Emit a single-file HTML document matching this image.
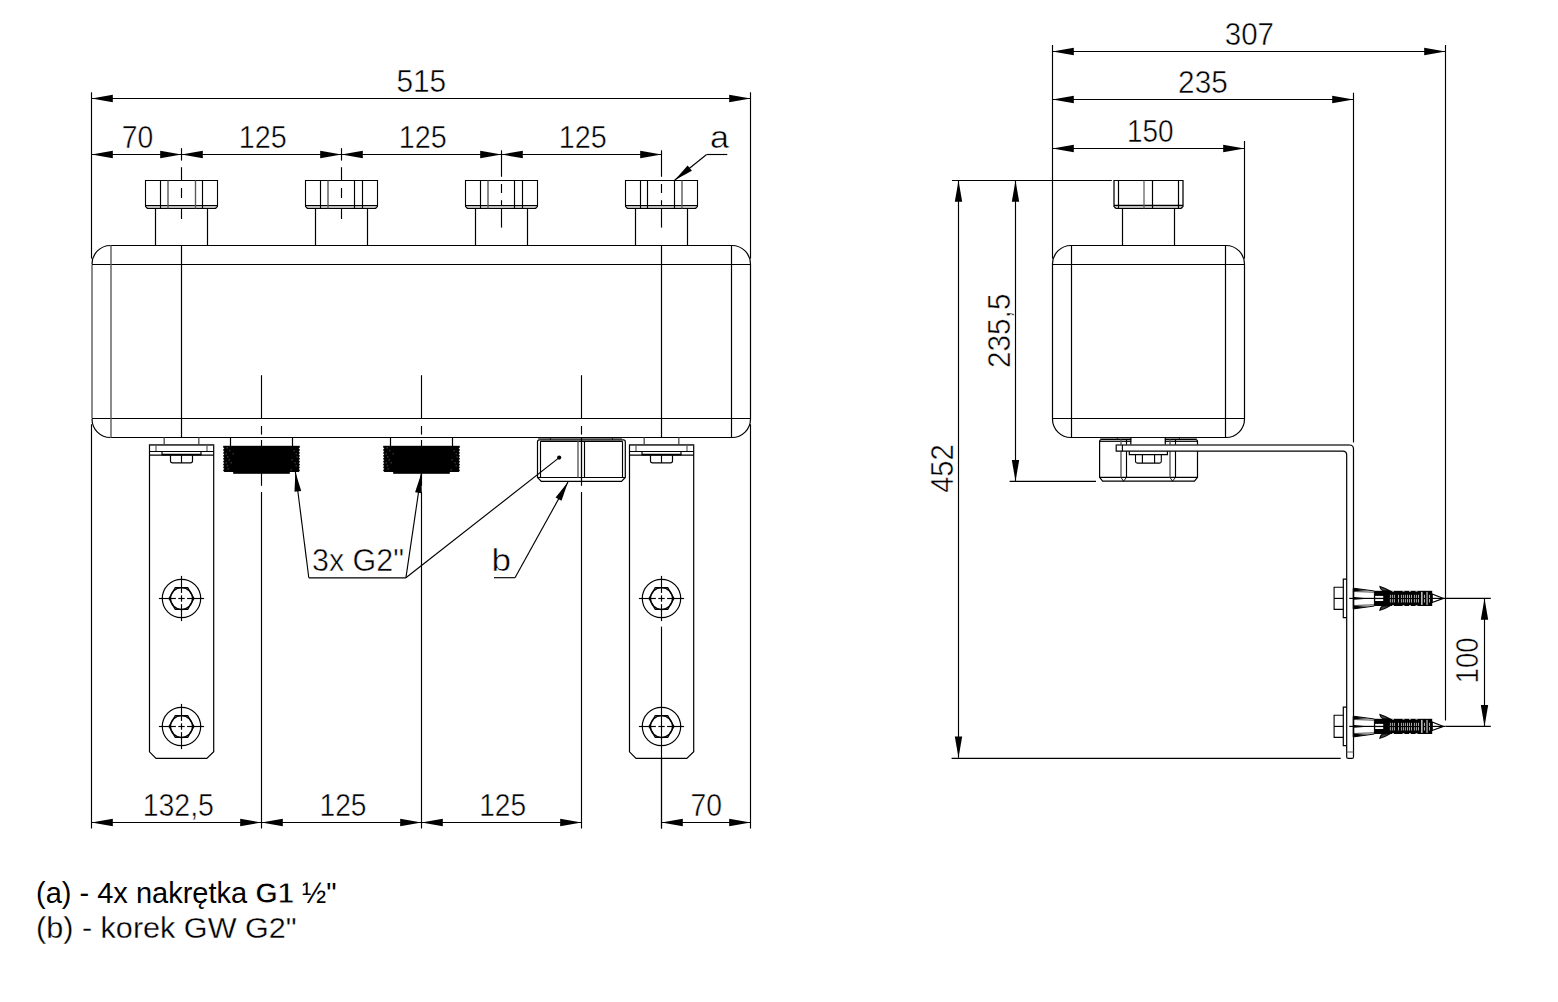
<!DOCTYPE html>
<html><head><meta charset="utf-8"><style>
html,body{margin:0;padding:0;background:#fff;width:1558px;height:1002px;overflow:hidden}
svg{display:block}
text{font-family:"Liberation Sans",sans-serif;fill:#000;stroke:#fff;stroke-width:0.5px}
</style></head><body>
<svg width="1558" height="1002" viewBox="0 0 1558 1002">
<rect width="1558" height="1002" fill="#fff"/>
<line x1="91.5" y1="98.5" x2="750.5" y2="98.5" stroke="#000" stroke-width="1.15"/>
<polygon points="91.5,98.5 112.8,94.8 112.8,102.2" fill="#000"/>
<polygon points="750.5,98.5 729.2,102.2 729.2,94.8" fill="#000"/>
<text x="421.3" y="92" font-size="32" text-anchor="middle" textLength="49.8" lengthAdjust="spacingAndGlyphs">515</text>
<line x1="91.5" y1="92.3" x2="91.5" y2="258.6" stroke="#000" stroke-width="1.15"/>
<line x1="91.5" y1="424.2" x2="91.5" y2="828.5" stroke="#000" stroke-width="1.15"/>
<line x1="750.5" y1="92.3" x2="750.5" y2="258.6" stroke="#000" stroke-width="1.15"/>
<line x1="750.5" y1="424.2" x2="750.5" y2="828.5" stroke="#000" stroke-width="1.15"/>
<line x1="91.5" y1="154.5" x2="181.5" y2="154.5" stroke="#000" stroke-width="1.15"/>
<polygon points="91.5,154.5 112.8,150.8 112.8,158.2" fill="#000"/>
<polygon points="181.5,154.5 160.2,158.2 160.2,150.8" fill="#000"/>
<line x1="181.5" y1="154.5" x2="341.5" y2="154.5" stroke="#000" stroke-width="1.15"/>
<polygon points="181.5,154.5 202.8,150.8 202.8,158.2" fill="#000"/>
<polygon points="341.5,154.5 320.2,158.2 320.2,150.8" fill="#000"/>
<line x1="341.5" y1="154.5" x2="501.5" y2="154.5" stroke="#000" stroke-width="1.15"/>
<polygon points="341.5,154.5 362.8,150.8 362.8,158.2" fill="#000"/>
<polygon points="501.5,154.5 480.2,158.2 480.2,150.8" fill="#000"/>
<line x1="501.5" y1="154.5" x2="661.5" y2="154.5" stroke="#000" stroke-width="1.15"/>
<polygon points="501.5,154.5 522.8,150.8 522.8,158.2" fill="#000"/>
<polygon points="661.5,154.5 640.2,158.2 640.2,150.8" fill="#000"/>
<text x="137.5" y="147.8" font-size="32" text-anchor="middle" textLength="31.5" lengthAdjust="spacingAndGlyphs">70</text>
<text x="262.8" y="147.8" font-size="32" text-anchor="middle" textLength="48" lengthAdjust="spacingAndGlyphs">125</text>
<text x="422.8" y="147.8" font-size="32" text-anchor="middle" textLength="48" lengthAdjust="spacingAndGlyphs">125</text>
<text x="582.8" y="147.8" font-size="32" text-anchor="middle" textLength="48" lengthAdjust="spacingAndGlyphs">125</text>
<line x1="181.5" y1="148.2" x2="181.5" y2="160.6" stroke="#000" stroke-width="1.15"/>
<line x1="181.5" y1="167.2" x2="181.5" y2="180.5" stroke="#000" stroke-width="1.15"/>
<line x1="181.5" y1="188" x2="181.5" y2="198" stroke="#000" stroke-width="1.15"/>
<line x1="181.5" y1="208.2" x2="181.5" y2="219" stroke="#000" stroke-width="1.15"/>
<rect x="146" y="205.5" width="71" height="3" fill="#bdbdbd"/>
<path d="M145.5,180.5 H217.5 V206.5 L215.5,208.5 H147.5 L145.5,206.5 Z" fill="none" stroke="#000" stroke-width="1.1"/>
<line x1="145.5" y1="205.5" x2="217.5" y2="205.5" stroke="#000" stroke-width="1"/>
<line x1="160.5" y1="180.5" x2="160.5" y2="208.5" stroke="#000" stroke-width="1.15"/>
<line x1="168" y1="180.5" x2="168" y2="208.5" stroke="#5a5a5a" stroke-width="1.4"/>
<line x1="195.5" y1="180.5" x2="195.5" y2="208.5" stroke="#5a5a5a" stroke-width="1.4"/>
<line x1="202.5" y1="180.5" x2="202.5" y2="208.5" stroke="#000" stroke-width="1.15"/>
<line x1="155.5" y1="208.5" x2="155.5" y2="245.5" stroke="#000" stroke-width="1.2"/>
<line x1="207.5" y1="208.5" x2="207.5" y2="245.5" stroke="#000" stroke-width="1.2"/>
<line x1="341.5" y1="148.2" x2="341.5" y2="160.6" stroke="#000" stroke-width="1.15"/>
<line x1="341.5" y1="167.2" x2="341.5" y2="180.5" stroke="#000" stroke-width="1.15"/>
<line x1="341.5" y1="188" x2="341.5" y2="198" stroke="#000" stroke-width="1.15"/>
<line x1="341.5" y1="208.2" x2="341.5" y2="219" stroke="#000" stroke-width="1.15"/>
<rect x="306" y="205.5" width="71" height="3" fill="#bdbdbd"/>
<path d="M305.5,180.5 H377.5 V206.5 L375.5,208.5 H307.5 L305.5,206.5 Z" fill="none" stroke="#000" stroke-width="1.1"/>
<line x1="305.5" y1="205.5" x2="377.5" y2="205.5" stroke="#000" stroke-width="1"/>
<line x1="320.5" y1="180.5" x2="320.5" y2="208.5" stroke="#000" stroke-width="1.15"/>
<line x1="328" y1="180.5" x2="328" y2="208.5" stroke="#5a5a5a" stroke-width="1.4"/>
<line x1="354.5" y1="180.5" x2="354.5" y2="208.5" stroke="#000" stroke-width="1.15"/>
<line x1="362.5" y1="180.5" x2="362.5" y2="208.5" stroke="#000" stroke-width="1.15"/>
<line x1="315.5" y1="208.5" x2="315.5" y2="245.5" stroke="#000" stroke-width="1.2"/>
<line x1="367.5" y1="208.5" x2="367.5" y2="245.5" stroke="#000" stroke-width="1.2"/>
<line x1="501.5" y1="150.3" x2="501.5" y2="176.8" stroke="#000" stroke-width="1.15"/>
<line x1="501.5" y1="184" x2="501.5" y2="193" stroke="#000" stroke-width="1.15"/>
<line x1="501.5" y1="200.2" x2="501.5" y2="227.6" stroke="#000" stroke-width="1.15"/>
<rect x="466" y="205.5" width="71" height="3" fill="#bdbdbd"/>
<path d="M465.5,180.5 H537.5 V206.5 L535.5,208.5 H467.5 L465.5,206.5 Z" fill="none" stroke="#000" stroke-width="1.1"/>
<line x1="465.5" y1="205.5" x2="537.5" y2="205.5" stroke="#000" stroke-width="1"/>
<line x1="480.5" y1="180.5" x2="480.5" y2="208.5" stroke="#000" stroke-width="1.15"/>
<line x1="488" y1="180.5" x2="488" y2="208.5" stroke="#5a5a5a" stroke-width="1.4"/>
<line x1="514.5" y1="180.5" x2="514.5" y2="208.5" stroke="#000" stroke-width="1.15"/>
<line x1="522.5" y1="180.5" x2="522.5" y2="208.5" stroke="#000" stroke-width="1.15"/>
<line x1="475.5" y1="208.5" x2="475.5" y2="245.5" stroke="#000" stroke-width="1.2"/>
<line x1="527.5" y1="208.5" x2="527.5" y2="245.5" stroke="#000" stroke-width="1.2"/>
<line x1="661.5" y1="150.3" x2="661.5" y2="176.8" stroke="#000" stroke-width="1.15"/>
<line x1="661.5" y1="184" x2="661.5" y2="193" stroke="#000" stroke-width="1.15"/>
<line x1="661.5" y1="200.2" x2="661.5" y2="227.6" stroke="#000" stroke-width="1.15"/>
<rect x="626" y="205.5" width="71" height="3" fill="#bdbdbd"/>
<path d="M625.5,180.5 H697.5 V206.5 L695.5,208.5 H627.5 L625.5,206.5 Z" fill="none" stroke="#000" stroke-width="1.1"/>
<line x1="625.5" y1="205.5" x2="697.5" y2="205.5" stroke="#000" stroke-width="1"/>
<line x1="640.5" y1="180.5" x2="640.5" y2="208.5" stroke="#000" stroke-width="1.15"/>
<line x1="647.5" y1="180.5" x2="647.5" y2="208.5" stroke="#000" stroke-width="1.15"/>
<line x1="674.5" y1="180.5" x2="674.5" y2="208.5" stroke="#000" stroke-width="1.15"/>
<line x1="682" y1="180.5" x2="682" y2="208.5" stroke="#5a5a5a" stroke-width="1.4"/>
<line x1="635.5" y1="208.5" x2="635.5" y2="245.5" stroke="#000" stroke-width="1.2"/>
<line x1="687.5" y1="208.5" x2="687.5" y2="245.5" stroke="#000" stroke-width="1.2"/>
<path d="M110.5,245.5 H732 A18.5,18.5 0 0 1 750.5,264 V419 A18.5,18.5 0 0 1 732,437.5 H110.5" fill="none" stroke="#000" stroke-width="1.2"/>
<path d="M110.5,245.5 A18.5,18.5 0 0 0 92,264" fill="none" stroke="#000" stroke-width="1.2"/>
<path d="M110.5,437.5 A18.5,18.5 0 0 1 92,419" fill="none" stroke="#000" stroke-width="1.2"/>
<line x1="92" y1="264.5" x2="92" y2="418.5" stroke="#5a5a5a" stroke-width="1.4"/>
<line x1="92" y1="264.5" x2="750.5" y2="264.5" stroke="#000" stroke-width="1.15"/>
<line x1="92" y1="418.5" x2="750.5" y2="418.5" stroke="#000" stroke-width="1.15"/>
<line x1="111" y1="245.5" x2="111" y2="437.5" stroke="#5a5a5a" stroke-width="1.4"/>
<line x1="731.5" y1="245.5" x2="731.5" y2="437.5" stroke="#000" stroke-width="1.2"/>
<line x1="181.5" y1="245.5" x2="181.5" y2="437.5" stroke="#000" stroke-width="1.2"/>
<line x1="661.5" y1="245.5" x2="661.5" y2="437.5" stroke="#000" stroke-width="1.2"/>
<line x1="261.5" y1="375.2" x2="261.5" y2="418.5" stroke="#000" stroke-width="1.15"/>
<line x1="261.5" y1="426" x2="261.5" y2="434.6" stroke="#000" stroke-width="1.15"/>
<line x1="261.5" y1="440" x2="261.5" y2="485.8" stroke="#000" stroke-width="1.15"/>
<line x1="261.5" y1="492" x2="261.5" y2="828.5" stroke="#000" stroke-width="1.15"/>
<line x1="421.5" y1="375.2" x2="421.5" y2="418.5" stroke="#000" stroke-width="1.15"/>
<line x1="421.5" y1="426" x2="421.5" y2="434.6" stroke="#000" stroke-width="1.15"/>
<line x1="421.5" y1="440" x2="421.5" y2="485.8" stroke="#000" stroke-width="1.15"/>
<line x1="421.5" y1="492" x2="421.5" y2="828.5" stroke="#000" stroke-width="1.15"/>
<line x1="581.5" y1="375.2" x2="581.5" y2="418.5" stroke="#000" stroke-width="1.15"/>
<line x1="581.5" y1="426" x2="581.5" y2="434.6" stroke="#000" stroke-width="1.15"/>
<line x1="581.5" y1="440" x2="581.5" y2="485.8" stroke="#000" stroke-width="1.15"/>
<line x1="581.5" y1="492" x2="581.5" y2="828.5" stroke="#000" stroke-width="1.15"/>
<line x1="230.5" y1="437.5" x2="230.5" y2="446" stroke="#000" stroke-width="1.2"/>
<line x1="292.5" y1="437.5" x2="292.5" y2="446" stroke="#000" stroke-width="1.2"/>
<rect x="223.2" y="445.8" width="76.6" height="26.2" fill="#000"/>
<rect x="233.2" y="470" width="56.6" height="3.8" fill="#000"/>
<polygon points="222.9,447.3 224.3,448.75 222.9,449.6" fill="#fff" stroke="none" stroke-width="0"/>
<polygon points="300.1,447.3 298.7,448.75 300.1,449.6" fill="#fff" stroke="none" stroke-width="0"/>
<polygon points="222.9,450.2 224.3,451.65 222.9,452.5" fill="#fff" stroke="none" stroke-width="0"/>
<polygon points="300.1,450.2 298.7,451.65 300.1,452.5" fill="#fff" stroke="none" stroke-width="0"/>
<polygon points="222.9,453.1 224.3,454.55 222.9,455.4" fill="#fff" stroke="none" stroke-width="0"/>
<polygon points="300.1,453.1 298.7,454.55 300.1,455.4" fill="#fff" stroke="none" stroke-width="0"/>
<polygon points="222.9,456 224.3,457.45 222.9,458.3" fill="#fff" stroke="none" stroke-width="0"/>
<polygon points="300.1,456 298.7,457.45 300.1,458.3" fill="#fff" stroke="none" stroke-width="0"/>
<polygon points="222.9,458.9 224.3,460.35 222.9,461.2" fill="#fff" stroke="none" stroke-width="0"/>
<polygon points="300.1,458.9 298.7,460.35 300.1,461.2" fill="#fff" stroke="none" stroke-width="0"/>
<polygon points="222.9,461.8 224.3,463.25 222.9,464.1" fill="#fff" stroke="none" stroke-width="0"/>
<polygon points="300.1,461.8 298.7,463.25 300.1,464.1" fill="#fff" stroke="none" stroke-width="0"/>
<polygon points="222.9,464.7 224.3,466.15 222.9,467" fill="#fff" stroke="none" stroke-width="0"/>
<polygon points="300.1,464.7 298.7,466.15 300.1,467" fill="#fff" stroke="none" stroke-width="0"/>
<polygon points="222.9,467.6 224.3,469.05 222.9,469.9" fill="#fff" stroke="none" stroke-width="0"/>
<polygon points="300.1,467.6 298.7,469.05 300.1,469.9" fill="#fff" stroke="none" stroke-width="0"/>
<polygon points="222.9,470.5 224.3,471.95 222.9,472.8" fill="#fff" stroke="none" stroke-width="0"/>
<polygon points="300.1,470.5 298.7,471.95 300.1,472.8" fill="#fff" stroke="none" stroke-width="0"/>
<rect x="226.5" y="447.6" width="1.5" height="0.6" fill="#777"/>
<rect x="229" y="450.6" width="1.5" height="0.6" fill="#777"/>
<rect x="225.5" y="453.6" width="1.5" height="0.6" fill="#777"/>
<rect x="227" y="456.6" width="1.5" height="0.6" fill="#777"/>
<rect x="228.5" y="459.6" width="1.5" height="0.6" fill="#777"/>
<rect x="225.5" y="462.6" width="1.5" height="0.6" fill="#777"/>
<rect x="226.5" y="465.6" width="1.5" height="0.6" fill="#777"/>
<rect x="227.5" y="468.6" width="1.5" height="0.6" fill="#777"/>
<rect x="232.5" y="453.6" width="1.5" height="0.6" fill="#777"/>
<rect x="230.5" y="462.6" width="1.5" height="0.6" fill="#777"/>
<rect x="293.5" y="450.6" width="1.5" height="0.6" fill="#777"/>
<rect x="295.5" y="453.6" width="1.5" height="0.6" fill="#777"/>
<rect x="296.5" y="456.6" width="1.5" height="0.6" fill="#777"/>
<rect x="291.5" y="459.6" width="1.5" height="0.6" fill="#777"/>
<rect x="294.5" y="462.6" width="1.5" height="0.6" fill="#777"/>
<rect x="295.5" y="465.6" width="1.5" height="0.6" fill="#777"/>
<rect x="290.5" y="469.6" width="1.5" height="0.6" fill="#777"/>
<line x1="390.5" y1="437.5" x2="390.5" y2="446" stroke="#000" stroke-width="1.2"/>
<line x1="452.5" y1="437.5" x2="452.5" y2="446" stroke="#000" stroke-width="1.2"/>
<rect x="383.2" y="445.8" width="76.6" height="26.2" fill="#000"/>
<rect x="393.2" y="470" width="56.6" height="3.8" fill="#000"/>
<polygon points="382.9,447.3 384.3,448.75 382.9,449.6" fill="#fff" stroke="none" stroke-width="0"/>
<polygon points="460.1,447.3 458.7,448.75 460.1,449.6" fill="#fff" stroke="none" stroke-width="0"/>
<polygon points="382.9,450.2 384.3,451.65 382.9,452.5" fill="#fff" stroke="none" stroke-width="0"/>
<polygon points="460.1,450.2 458.7,451.65 460.1,452.5" fill="#fff" stroke="none" stroke-width="0"/>
<polygon points="382.9,453.1 384.3,454.55 382.9,455.4" fill="#fff" stroke="none" stroke-width="0"/>
<polygon points="460.1,453.1 458.7,454.55 460.1,455.4" fill="#fff" stroke="none" stroke-width="0"/>
<polygon points="382.9,456 384.3,457.45 382.9,458.3" fill="#fff" stroke="none" stroke-width="0"/>
<polygon points="460.1,456 458.7,457.45 460.1,458.3" fill="#fff" stroke="none" stroke-width="0"/>
<polygon points="382.9,458.9 384.3,460.35 382.9,461.2" fill="#fff" stroke="none" stroke-width="0"/>
<polygon points="460.1,458.9 458.7,460.35 460.1,461.2" fill="#fff" stroke="none" stroke-width="0"/>
<polygon points="382.9,461.8 384.3,463.25 382.9,464.1" fill="#fff" stroke="none" stroke-width="0"/>
<polygon points="460.1,461.8 458.7,463.25 460.1,464.1" fill="#fff" stroke="none" stroke-width="0"/>
<polygon points="382.9,464.7 384.3,466.15 382.9,467" fill="#fff" stroke="none" stroke-width="0"/>
<polygon points="460.1,464.7 458.7,466.15 460.1,467" fill="#fff" stroke="none" stroke-width="0"/>
<polygon points="382.9,467.6 384.3,469.05 382.9,469.9" fill="#fff" stroke="none" stroke-width="0"/>
<polygon points="460.1,467.6 458.7,469.05 460.1,469.9" fill="#fff" stroke="none" stroke-width="0"/>
<polygon points="382.9,470.5 384.3,471.95 382.9,472.8" fill="#fff" stroke="none" stroke-width="0"/>
<polygon points="460.1,470.5 458.7,471.95 460.1,472.8" fill="#fff" stroke="none" stroke-width="0"/>
<rect x="386.5" y="447.6" width="1.5" height="0.6" fill="#777"/>
<rect x="389" y="450.6" width="1.5" height="0.6" fill="#777"/>
<rect x="385.5" y="453.6" width="1.5" height="0.6" fill="#777"/>
<rect x="387" y="456.6" width="1.5" height="0.6" fill="#777"/>
<rect x="388.5" y="459.6" width="1.5" height="0.6" fill="#777"/>
<rect x="385.5" y="462.6" width="1.5" height="0.6" fill="#777"/>
<rect x="386.5" y="465.6" width="1.5" height="0.6" fill="#777"/>
<rect x="387.5" y="468.6" width="1.5" height="0.6" fill="#777"/>
<rect x="392.5" y="453.6" width="1.5" height="0.6" fill="#777"/>
<rect x="390.5" y="462.6" width="1.5" height="0.6" fill="#777"/>
<rect x="453.5" y="450.6" width="1.5" height="0.6" fill="#777"/>
<rect x="455.5" y="453.6" width="1.5" height="0.6" fill="#777"/>
<rect x="456.5" y="456.6" width="1.5" height="0.6" fill="#777"/>
<rect x="451.5" y="459.6" width="1.5" height="0.6" fill="#777"/>
<rect x="454.5" y="462.6" width="1.5" height="0.6" fill="#777"/>
<rect x="455.5" y="465.6" width="1.5" height="0.6" fill="#777"/>
<rect x="450.5" y="469.6" width="1.5" height="0.6" fill="#777"/>
<line x1="538" y1="438.6" x2="622" y2="438.6" stroke="#444" stroke-width="0.8"/>
<line x1="550.4" y1="437.5" x2="550.4" y2="439.8" stroke="#000" stroke-width="0.8"/>
<line x1="612.4" y1="437.5" x2="612.4" y2="439.8" stroke="#000" stroke-width="0.8"/>
<path d="M539.5,439.8 H623.3 Q625.3,439.8 625.3,441.8 V477.5 L621.5,481.4 H541.3 L537.5,477.5 V441.8 Q537.5,439.8 539.5,439.8 Z" fill="none" stroke="#000" stroke-width="1.2"/>
<line x1="540.5" y1="441.3" x2="622.3" y2="441.3" stroke="#000" stroke-width="1.15"/>
<line x1="537.5" y1="477.5" x2="625.3" y2="477.5" stroke="#000" stroke-width="1.2"/>
<line x1="540.5" y1="441.3" x2="540.5" y2="477.5" stroke="#000" stroke-width="1.15"/>
<line x1="622.5" y1="441.3" x2="622.5" y2="477.5" stroke="#000" stroke-width="1.15"/>
<line x1="578" y1="441.3" x2="578" y2="477.5" stroke="#5a5a5a" stroke-width="1.4"/>
<line x1="584.5" y1="441.3" x2="584.5" y2="477.5" stroke="#000" stroke-width="1.15"/>
<line x1="581.5" y1="437.5" x2="581.5" y2="481.4" stroke="#000" stroke-width="1.15"/>
<line x1="164.2" y1="437.5" x2="164.2" y2="444.6" stroke="#5a5a5a" stroke-width="1.4"/>
<line x1="198.8" y1="437.5" x2="198.8" y2="444.6" stroke="#5a5a5a" stroke-width="1.4"/>
<path d="M149.5,444.8 H213.7 V751.8 L206.8,758.4 H156 L149.5,751.8 Z" fill="none" stroke="#000" stroke-width="1.2"/>
<line x1="149.5" y1="444.8" x2="213.7" y2="444.8" stroke="#444" stroke-width="1.2"/>
<line x1="156" y1="444.8" x2="156" y2="451.3" stroke="#5a5a5a" stroke-width="1.2"/>
<line x1="207" y1="444.8" x2="207" y2="451.3" stroke="#5a5a5a" stroke-width="1.2"/>
<line x1="149.5" y1="451.5" x2="213.7" y2="451.5" stroke="#000" stroke-width="1.1"/>
<line x1="149.5" y1="455.2" x2="213.7" y2="455.2" stroke="#000" stroke-width="1.2"/>
<line x1="162" y1="454.6" x2="201" y2="454.6" stroke="#000" stroke-width="1.8"/>
<line x1="162" y1="451.5" x2="162" y2="455.2" stroke="#000" stroke-width="1.2"/>
<line x1="201" y1="451.5" x2="201" y2="455.2" stroke="#000" stroke-width="1.2"/>
<path d="M170.5,455.2 V461 Q170.5,462.8 172.5,462.8 H190.5 Q192.5,462.8 192.5,461 V455.2" fill="none" stroke="#000" stroke-width="1.2"/>
<line x1="181.5" y1="455.2" x2="181.5" y2="462.8" stroke="#000" stroke-width="1.15"/>
<circle cx="181.5" cy="598.5" r="19.2" fill="none" stroke="#000" stroke-width="1.2"/>
<polygon points="193.95,598.5 187.72,609.28 175.28,609.28 169.05,598.5 175.28,587.72 187.72,587.72" fill="none" stroke="#000" stroke-width="1.3"/>
<circle cx="181.5" cy="598.5" r="11" fill="none" stroke="#000" stroke-width="1.25"/>
<line x1="158.9" y1="598.5" x2="175.9" y2="598.5" stroke="#000" stroke-width="1.15"/>
<line x1="178.3" y1="598.5" x2="184.7" y2="598.5" stroke="#000" stroke-width="1.15"/>
<line x1="187.1" y1="598.5" x2="204.1" y2="598.5" stroke="#000" stroke-width="1.15"/>
<line x1="181.5" y1="575.9" x2="181.5" y2="592.9" stroke="#000" stroke-width="1.15"/>
<line x1="181.5" y1="595.3" x2="181.5" y2="601.7" stroke="#000" stroke-width="1.15"/>
<line x1="181.5" y1="604.1" x2="181.5" y2="621.1" stroke="#000" stroke-width="1.15"/>
<circle cx="181.5" cy="726.5" r="19.2" fill="none" stroke="#000" stroke-width="1.2"/>
<polygon points="193.95,726.5 187.72,737.28 175.28,737.28 169.05,726.5 175.28,715.72 187.72,715.72" fill="none" stroke="#000" stroke-width="1.3"/>
<circle cx="181.5" cy="726.5" r="11" fill="none" stroke="#000" stroke-width="1.25"/>
<line x1="158.9" y1="726.5" x2="175.9" y2="726.5" stroke="#000" stroke-width="1.15"/>
<line x1="178.3" y1="726.5" x2="184.7" y2="726.5" stroke="#000" stroke-width="1.15"/>
<line x1="187.1" y1="726.5" x2="204.1" y2="726.5" stroke="#000" stroke-width="1.15"/>
<line x1="181.5" y1="703.9" x2="181.5" y2="720.9" stroke="#000" stroke-width="1.15"/>
<line x1="181.5" y1="723.3" x2="181.5" y2="729.7" stroke="#000" stroke-width="1.15"/>
<line x1="181.5" y1="732.1" x2="181.5" y2="749.1" stroke="#000" stroke-width="1.15"/>
<line x1="644.2" y1="437.5" x2="644.2" y2="444.6" stroke="#5a5a5a" stroke-width="1.4"/>
<line x1="678.8" y1="437.5" x2="678.8" y2="444.6" stroke="#5a5a5a" stroke-width="1.4"/>
<path d="M629.5,444.8 H693.7 V751.8 L686.8,758.4 H636 L629.5,751.8 Z" fill="none" stroke="#000" stroke-width="1.2"/>
<line x1="629.5" y1="444.8" x2="693.7" y2="444.8" stroke="#444" stroke-width="1.2"/>
<line x1="636" y1="444.8" x2="636" y2="451.3" stroke="#5a5a5a" stroke-width="1.2"/>
<line x1="687" y1="444.8" x2="687" y2="451.3" stroke="#5a5a5a" stroke-width="1.2"/>
<line x1="629.5" y1="451.5" x2="693.7" y2="451.5" stroke="#000" stroke-width="1.1"/>
<line x1="629.5" y1="455.2" x2="693.7" y2="455.2" stroke="#000" stroke-width="1.2"/>
<line x1="642" y1="454.6" x2="681" y2="454.6" stroke="#000" stroke-width="1.8"/>
<line x1="642" y1="451.5" x2="642" y2="455.2" stroke="#000" stroke-width="1.2"/>
<line x1="681" y1="451.5" x2="681" y2="455.2" stroke="#000" stroke-width="1.2"/>
<path d="M650.5,455.2 V461 Q650.5,462.8 652.5,462.8 H670.5 Q672.5,462.8 672.5,461 V455.2" fill="none" stroke="#000" stroke-width="1.2"/>
<line x1="661.5" y1="455.2" x2="661.5" y2="462.8" stroke="#000" stroke-width="1.15"/>
<circle cx="661.5" cy="598.5" r="19.2" fill="none" stroke="#000" stroke-width="1.2"/>
<polygon points="673.95,598.5 667.73,609.28 655.27,609.28 649.05,598.5 655.27,587.72 667.73,587.72" fill="none" stroke="#000" stroke-width="1.3"/>
<circle cx="661.5" cy="598.5" r="11" fill="none" stroke="#000" stroke-width="1.25"/>
<line x1="638.9" y1="598.5" x2="655.9" y2="598.5" stroke="#000" stroke-width="1.15"/>
<line x1="658.3" y1="598.5" x2="664.7" y2="598.5" stroke="#000" stroke-width="1.15"/>
<line x1="667.1" y1="598.5" x2="684.1" y2="598.5" stroke="#000" stroke-width="1.15"/>
<line x1="661.5" y1="575.9" x2="661.5" y2="592.9" stroke="#000" stroke-width="1.15"/>
<line x1="661.5" y1="595.3" x2="661.5" y2="601.7" stroke="#000" stroke-width="1.15"/>
<line x1="661.5" y1="604.1" x2="661.5" y2="621.1" stroke="#000" stroke-width="1.15"/>
<circle cx="661.5" cy="726.5" r="19.2" fill="none" stroke="#000" stroke-width="1.2"/>
<polygon points="673.95,726.5 667.73,737.28 655.27,737.28 649.05,726.5 655.27,715.72 667.73,715.72" fill="none" stroke="#000" stroke-width="1.3"/>
<circle cx="661.5" cy="726.5" r="11" fill="none" stroke="#000" stroke-width="1.25"/>
<line x1="638.9" y1="726.5" x2="655.9" y2="726.5" stroke="#000" stroke-width="1.15"/>
<line x1="658.3" y1="726.5" x2="664.7" y2="726.5" stroke="#000" stroke-width="1.15"/>
<line x1="667.1" y1="726.5" x2="684.1" y2="726.5" stroke="#000" stroke-width="1.15"/>
<line x1="661.5" y1="626.6" x2="661.5" y2="828.5" stroke="#000" stroke-width="1.15"/>
<line x1="661.5" y1="758.4" x2="661.5" y2="828.5" stroke="#000" stroke-width="1.15"/>
<text x="358" y="570.9" font-size="32" text-anchor="middle" textLength="92" lengthAdjust="spacingAndGlyphs">3x G2&quot;</text>
<line x1="308.8" y1="577.8" x2="405.9" y2="577.8" stroke="#000" stroke-width="1.15"/>
<line x1="308.8" y1="577.8" x2="295.4" y2="472" stroke="#000" stroke-width="1.15"/>
<polygon points="295.4,472 301.22,490.92 294.48,491.77" fill="#000"/>
<line x1="405.9" y1="577.8" x2="421.3" y2="473.5" stroke="#000" stroke-width="1.15"/>
<polygon points="421.3,473.5 421.82,493.29 415.09,492.29" fill="#000"/>
<line x1="405.9" y1="577.8" x2="559.2" y2="457.6" stroke="#000" stroke-width="1.15"/>
<circle cx="559.2" cy="457.6" r="2.1" fill="#000"/>
<text x="501.3" y="571" font-size="32" text-anchor="middle" textLength="19.5" lengthAdjust="spacingAndGlyphs">b</text>
<line x1="494" y1="577.7" x2="515" y2="577.7" stroke="#000" stroke-width="1.15"/>
<line x1="515" y1="577.7" x2="568" y2="482" stroke="#000" stroke-width="1.15"/>
<polygon points="568,482 561.53,500.71 555.58,497.41" fill="#000"/>
<text x="719.6" y="147.8" font-size="32" text-anchor="middle" textLength="19" lengthAdjust="spacingAndGlyphs">a</text>
<line x1="706.6" y1="154.5" x2="727.3" y2="154.5" stroke="#000" stroke-width="1.15"/>
<line x1="706.6" y1="154.5" x2="674.6" y2="180.3" stroke="#000" stroke-width="1.15"/>
<polygon points="674.6,180.3 687.65,165.41 691.91,170.71" fill="#000"/>
<line x1="91.5" y1="822.5" x2="261.5" y2="822.5" stroke="#000" stroke-width="1.15"/>
<polygon points="91.5,822.5 112.8,818.8 112.8,826.2" fill="#000"/>
<polygon points="261.5,822.5 240.2,826.2 240.2,818.8" fill="#000"/>
<line x1="261.5" y1="822.5" x2="421.5" y2="822.5" stroke="#000" stroke-width="1.15"/>
<polygon points="261.5,822.5 282.8,818.8 282.8,826.2" fill="#000"/>
<polygon points="421.5,822.5 400.2,826.2 400.2,818.8" fill="#000"/>
<line x1="421.5" y1="822.5" x2="581.5" y2="822.5" stroke="#000" stroke-width="1.15"/>
<polygon points="421.5,822.5 442.8,818.8 442.8,826.2" fill="#000"/>
<polygon points="581.5,822.5 560.2,826.2 560.2,818.8" fill="#000"/>
<line x1="661.5" y1="822.5" x2="750.5" y2="822.5" stroke="#000" stroke-width="1.15"/>
<polygon points="661.5,822.5 682.8,818.8 682.8,826.2" fill="#000"/>
<polygon points="750.5,822.5 729.2,826.2 729.2,818.8" fill="#000"/>
<text x="178.3" y="815.8" font-size="32" text-anchor="middle" textLength="71.3" lengthAdjust="spacingAndGlyphs">132,5</text>
<text x="343" y="815.8" font-size="32" text-anchor="middle" textLength="47" lengthAdjust="spacingAndGlyphs">125</text>
<text x="502.7" y="815.8" font-size="32" text-anchor="middle" textLength="47" lengthAdjust="spacingAndGlyphs">125</text>
<text x="706.2" y="815.8" font-size="32" text-anchor="middle" textLength="31.5" lengthAdjust="spacingAndGlyphs">70</text>
<line x1="1052.5" y1="45" x2="1052.5" y2="258.6" stroke="#000" stroke-width="1.15"/>
<line x1="1052.5" y1="51.5" x2="1445.5" y2="51.5" stroke="#000" stroke-width="1.15"/>
<polygon points="1052.5,51.5 1073.8,47.8 1073.8,55.2" fill="#000"/>
<polygon points="1445.5,51.5 1424.2,55.2 1424.2,47.8" fill="#000"/>
<line x1="1445.5" y1="45" x2="1445.5" y2="720.6" stroke="#000" stroke-width="1.15"/>
<text x="1249.4" y="45.3" font-size="32" text-anchor="middle" textLength="49.2" lengthAdjust="spacingAndGlyphs">307</text>
<line x1="1052.5" y1="99.5" x2="1353.5" y2="99.5" stroke="#000" stroke-width="1.15"/>
<polygon points="1052.5,99.5 1073.8,95.8 1073.8,103.2" fill="#000"/>
<polygon points="1353.5,99.5 1332.2,103.2 1332.2,95.8" fill="#000"/>
<line x1="1353.5" y1="92.7" x2="1353.5" y2="442.6" stroke="#000" stroke-width="1.15"/>
<text x="1202.9" y="93.1" font-size="32" text-anchor="middle" textLength="49.6" lengthAdjust="spacingAndGlyphs">235</text>
<line x1="1052.5" y1="148.5" x2="1244.5" y2="148.5" stroke="#000" stroke-width="1.15"/>
<polygon points="1052.5,148.5 1073.8,144.8 1073.8,152.2" fill="#000"/>
<polygon points="1244.5,148.5 1223.2,152.2 1223.2,144.8" fill="#000"/>
<line x1="1244.5" y1="141" x2="1244.5" y2="258.6" stroke="#000" stroke-width="1.15"/>
<text x="1150.2" y="142" font-size="32" text-anchor="middle" textLength="46.6" lengthAdjust="spacingAndGlyphs">150</text>
<line x1="952" y1="180.5" x2="1111.8" y2="180.5" stroke="#000" stroke-width="1.15"/>
<line x1="958.5" y1="180.5" x2="958.5" y2="757.8" stroke="#000" stroke-width="1.15"/>
<polygon points="958.5,180.5 962.2,201.8 954.8,201.8" fill="#000"/>
<polygon points="958.5,757.8 954.8,736.5 962.2,736.5" fill="#000"/>
<text x="952.6" y="468.6" font-size="32" text-anchor="middle" textLength="48.5" lengthAdjust="spacingAndGlyphs" transform="rotate(-90 952.6 468.6)">452</text>
<line x1="1015.5" y1="180.5" x2="1015.5" y2="481.3" stroke="#000" stroke-width="1.15"/>
<polygon points="1015.5,180.5 1019.2,201.8 1011.8,201.8" fill="#000"/>
<polygon points="1015.5,481.3 1011.8,460 1019.2,460" fill="#000"/>
<text x="1010.3" y="330.8" font-size="32" text-anchor="middle" textLength="74.5" lengthAdjust="spacingAndGlyphs" transform="rotate(-90 1010.3 330.8)">235,5</text>
<line x1="1009.6" y1="481.3" x2="1096" y2="481.3" stroke="#000" stroke-width="1.15"/>
<line x1="951.6" y1="758.4" x2="1340.7" y2="758.4" stroke="#000" stroke-width="1.15"/>
<rect x="1114" y="205.3" width="69" height="3" fill="#bdbdbd"/>
<path d="M1114,180.5 H1183 V206.5 L1181,208.5 H1116 L1114,206.5 Z" fill="none" stroke="#000" stroke-width="1.2"/>
<line x1="1114" y1="180.5" x2="1114" y2="206.5" stroke="#5a5a5a" stroke-width="1.2"/>
<line x1="1183" y1="180.5" x2="1183" y2="206.5" stroke="#5a5a5a" stroke-width="1.2"/>
<line x1="1114" y1="180.5" x2="1183" y2="180.5" stroke="#000" stroke-width="1.2"/>
<line x1="1114" y1="205.3" x2="1183" y2="205.3" stroke="#000" stroke-width="1.15"/>
<line x1="1118.5" y1="180.5" x2="1118.5" y2="208.5" stroke="#000" stroke-width="1.2"/>
<line x1="1144" y1="180.5" x2="1144" y2="208.5" stroke="#5a5a5a" stroke-width="1.2"/>
<line x1="1152.5" y1="180.5" x2="1152.5" y2="208.5" stroke="#000" stroke-width="1.2"/>
<line x1="1178.5" y1="180.5" x2="1178.5" y2="208.5" stroke="#000" stroke-width="1.2"/>
<line x1="1122.5" y1="208.5" x2="1122.5" y2="245.5" stroke="#000" stroke-width="1.2"/>
<line x1="1174.5" y1="208.5" x2="1174.5" y2="245.5" stroke="#000" stroke-width="1.2"/>
<path d="M1071,245.5 H1226 A18.5,18.5 0 0 1 1244.5,264 V419 A18.5,18.5 0 0 1 1226,437.5 H1071 A18.5,18.5 0 0 1 1052.5,419 V264 A18.5,18.5 0 0 1 1071,245.5 Z" fill="none" stroke="#000" stroke-width="1.2"/>
<line x1="1052.5" y1="264.5" x2="1244.5" y2="264.5" stroke="#000" stroke-width="1.15"/>
<line x1="1052.5" y1="418.5" x2="1244.5" y2="418.5" stroke="#000" stroke-width="1.15"/>
<line x1="1071.5" y1="245.5" x2="1071.5" y2="437.5" stroke="#000" stroke-width="1.2"/>
<line x1="1225.5" y1="245.5" x2="1225.5" y2="437.5" stroke="#000" stroke-width="1.2"/>
<line x1="1100" y1="438.3" x2="1197" y2="438.3" stroke="#444" stroke-width="0.8"/>
<line x1="1117.3" y1="437.5" x2="1117.3" y2="439.6" stroke="#000" stroke-width="0.8"/>
<line x1="1179.4" y1="437.5" x2="1179.4" y2="439.6" stroke="#000" stroke-width="0.8"/>
<path d="M1101.6,439.6 H1195.5 Q1197.5,439.6 1197.5,441.6 V477.4 L1194.5,481.2 H1102.6 L1099.6,477.4 V441.6 Q1099.6,439.6 1101.6,439.6 Z" fill="none" stroke="#000" stroke-width="1.2"/>
<line x1="1099.6" y1="441.4" x2="1197.5" y2="441.4" stroke="#000" stroke-width="1"/>
<line x1="1099.6" y1="477.4" x2="1197.5" y2="477.4" stroke="#000" stroke-width="1.2"/>
<line x1="1121" y1="439.6" x2="1121" y2="477.4" stroke="#5a5a5a" stroke-width="1.4"/>
<line x1="1121" y1="477.4" x2="1123.5" y2="481.2" stroke="#000" stroke-width="0.9"/>
<line x1="1126.5" y1="439.6" x2="1126.5" y2="477.4" stroke="#000" stroke-width="1.15"/>
<line x1="1126.5" y1="477.4" x2="1123.5" y2="481.2" stroke="#000" stroke-width="0.9"/>
<line x1="1170" y1="439.6" x2="1170" y2="477.4" stroke="#5a5a5a" stroke-width="1.4"/>
<line x1="1170" y1="477.4" x2="1172.5" y2="481.2" stroke="#000" stroke-width="0.9"/>
<line x1="1175.5" y1="439.6" x2="1175.5" y2="477.4" stroke="#000" stroke-width="1.15"/>
<line x1="1175.5" y1="477.4" x2="1172.5" y2="481.2" stroke="#000" stroke-width="0.9"/>
<rect x="1131.3" y="438" width="33.5" height="6.8" fill="#fff"/>
<path d="M1130.8,437.5 V444.8 M1165.3,437.5 V444.8" fill="none" stroke="#000" stroke-width="1.2"/>
<path d="M1116.2,445 H1349.5 Q1353.5,445 1353.5,449 V756.9 Q1353.5,758.4 1352,758.4 H1348.2 Q1346.7,758.4 1346.7,756.9 V455.2 Q1346.7,451.2 1342.7,451.2 H1116.2 Z" fill="#fff" stroke="#000" stroke-width="1.2"/>
<line x1="1116.2" y1="445" x2="1349.5" y2="445" stroke="#555" stroke-width="1.2"/>
<line x1="1122.4" y1="445" x2="1122.4" y2="451.2" stroke="#000" stroke-width="1.15"/>
<line x1="1346.7" y1="752" x2="1353.5" y2="752" stroke="#5a5a5a" stroke-width="1"/>
<path d="M1129.3,451.2 V454.7 H1167.4 V451.2" fill="none" stroke="#000" stroke-width="1.2"/>
<path d="M1135.5,454.7 V461.3 Q1135.5,463.1 1137.3,463.1 H1159.5 Q1161.3,463.1 1161.3,461.3 V454.7" fill="none" stroke="#000" stroke-width="1.1"/>
<line x1="1142.4" y1="454.7" x2="1142.4" y2="463.1" stroke="#000" stroke-width="1.15"/>
<line x1="1154.6" y1="454.7" x2="1154.6" y2="463.1" stroke="#000" stroke-width="1.15"/>
<path d="M1346.7,579.2 H1343.3 V617.7 H1346.7" fill="none" stroke="#000" stroke-width="1.2"/>
<path d="M1343.3,587.2 H1334.1 V609.4 H1343.3" fill="none" stroke="#000" stroke-width="1.1"/>
<line x1="1334.1" y1="598.4" x2="1343.3" y2="598.4" stroke="#000" stroke-width="1.15"/>
<polygon points="1353.5,588.2 1374.4,591 1374.4,606 1353.5,608.9" fill="#fff" stroke="#000" stroke-width="1"/>
<polygon points="1354,588.4 1368,590.2 1354,591.2" fill="#000" stroke="none" stroke-width="0"/>
<polygon points="1354,608.7 1368,606.8 1354,605.8" fill="#000" stroke="none" stroke-width="0"/>
<line x1="1353.5" y1="591.5" x2="1374.4" y2="592.2" stroke="#333" stroke-width="0.9"/>
<line x1="1353.5" y1="605.5" x2="1374.4" y2="604.8" stroke="#333" stroke-width="0.9"/>
<polygon points="1354,597 1364,597.9 1364,598.9 1354,599.8" fill="#000" stroke="none" stroke-width="0"/>
<line x1="1353.5" y1="588.2" x2="1353.5" y2="608.9" stroke="#000" stroke-width="1.6"/>
<line x1="1349.2" y1="598.4" x2="1374.4" y2="598.4" stroke="#000" stroke-width="1.15"/>
<path d="M1379.9,586.5 Q1380.5,589.9 1382.5,590.6 L1391,591.4 Q1386,588.4 1379.9,586.5 Z" fill="#444" stroke="#000" stroke-width="1.1"/>
<path d="M1379.9,610.3 Q1380.5,606.9 1382.5,606.2 L1391,605.4 Q1386,608.4 1379.9,610.3 Z" fill="#444" stroke="#000" stroke-width="1.1"/>
<rect x="1374.4" y="590.8" width="57.8" height="15.2" fill="#000"/>
<rect x="1392" y="590.6" width="2" height="0.9" fill="#fff"/>
<rect x="1392" y="605.3" width="2" height="0.9" fill="#fff"/>
<rect x="1402.5" y="590.6" width="2" height="0.9" fill="#fff"/>
<rect x="1402.5" y="605.3" width="2" height="0.9" fill="#fff"/>
<rect x="1409" y="590.6" width="2" height="0.9" fill="#fff"/>
<rect x="1409" y="605.3" width="2" height="0.9" fill="#fff"/>
<rect x="1415.5" y="590.6" width="2" height="0.9" fill="#fff"/>
<rect x="1415.5" y="605.3" width="2" height="0.9" fill="#fff"/>
<rect x="1375.2" y="595.9" width="8" height="1.9" fill="#fff"/>
<rect x="1375.2" y="599.1" width="8" height="1.9" fill="#fff"/>
<rect x="1389.9" y="594.8" width="1" height="3.2" fill="#aaa"/>
<rect x="1389.9" y="599.1" width="1" height="3.4" fill="#aaa"/>
<rect x="1391.9" y="594.8" width="1" height="3.2" fill="#aaa"/>
<rect x="1391.9" y="599.1" width="1" height="3.4" fill="#aaa"/>
<rect x="1393.9" y="594.8" width="1" height="3.2" fill="#aaa"/>
<rect x="1393.9" y="599.1" width="1" height="3.4" fill="#aaa"/>
<rect x="1398" y="594.8" width="1" height="3.2" fill="#aaa"/>
<rect x="1398" y="599.1" width="1" height="3.4" fill="#aaa"/>
<rect x="1400.9" y="594.8" width="1" height="3.2" fill="#aaa"/>
<rect x="1400.9" y="599.1" width="1" height="3.4" fill="#aaa"/>
<rect x="1402.9" y="594.8" width="1" height="3.2" fill="#aaa"/>
<rect x="1402.9" y="599.1" width="1" height="3.4" fill="#aaa"/>
<rect x="1404.9" y="594.8" width="1" height="3.2" fill="#aaa"/>
<rect x="1404.9" y="599.1" width="1" height="3.4" fill="#aaa"/>
<rect x="1407" y="594.8" width="1" height="3.2" fill="#aaa"/>
<rect x="1407" y="599.1" width="1" height="3.4" fill="#aaa"/>
<rect x="1409" y="594.8" width="1" height="3.2" fill="#aaa"/>
<rect x="1409" y="599.1" width="1" height="3.4" fill="#aaa"/>
<rect x="1411" y="594.8" width="1" height="3.2" fill="#aaa"/>
<rect x="1411" y="599.1" width="1" height="3.4" fill="#aaa"/>
<rect x="1413.9" y="594.8" width="1" height="3.2" fill="#aaa"/>
<rect x="1413.9" y="599.1" width="1" height="3.4" fill="#aaa"/>
<rect x="1415.9" y="594.8" width="1" height="3.2" fill="#aaa"/>
<rect x="1415.9" y="599.1" width="1" height="3.4" fill="#aaa"/>
<rect x="1418" y="594.8" width="1" height="3.2" fill="#aaa"/>
<rect x="1418" y="599.1" width="1" height="3.4" fill="#aaa"/>
<rect x="1424" y="594.8" width="1" height="3.2" fill="#aaa"/>
<rect x="1424" y="599.1" width="1" height="3.4" fill="#aaa"/>
<rect x="1429" y="594.8" width="1" height="3.2" fill="#aaa"/>
<rect x="1429" y="599.1" width="1" height="3.4" fill="#aaa"/>
<rect x="1421" y="591.9" width="1.6" height="13" fill="#bbb"/>
<rect x="1426.2" y="591.9" width="1.7" height="13" fill="#888"/>
<polygon points="1432.2,594 1443.4,598.4 1432.2,602.5" fill="none" stroke="#000" stroke-width="1.2"/>
<line x1="1432.2" y1="598.4" x2="1445.5" y2="598.4" stroke="#000" stroke-width="1.15"/>
<path d="M1346.7,707.2 H1343.3 V745.7 H1346.7" fill="none" stroke="#000" stroke-width="1.2"/>
<path d="M1343.3,715.2 H1334.1 V737.4 H1343.3" fill="none" stroke="#000" stroke-width="1.1"/>
<line x1="1334.1" y1="726.4" x2="1343.3" y2="726.4" stroke="#000" stroke-width="1.15"/>
<polygon points="1353.5,716.2 1374.4,719 1374.4,734 1353.5,736.9" fill="#fff" stroke="#000" stroke-width="1"/>
<polygon points="1354,716.4 1368,718.2 1354,719.2" fill="#000" stroke="none" stroke-width="0"/>
<polygon points="1354,736.7 1368,734.8 1354,733.8" fill="#000" stroke="none" stroke-width="0"/>
<line x1="1353.5" y1="719.5" x2="1374.4" y2="720.2" stroke="#333" stroke-width="0.9"/>
<line x1="1353.5" y1="733.5" x2="1374.4" y2="732.8" stroke="#333" stroke-width="0.9"/>
<polygon points="1354,725 1364,725.9 1364,726.9 1354,727.8" fill="#000" stroke="none" stroke-width="0"/>
<line x1="1353.5" y1="716.2" x2="1353.5" y2="736.9" stroke="#000" stroke-width="1.6"/>
<line x1="1349.2" y1="726.4" x2="1374.4" y2="726.4" stroke="#000" stroke-width="1.15"/>
<path d="M1379.9,714.5 Q1380.5,717.9 1382.5,718.6 L1391,719.4 Q1386,716.4 1379.9,714.5 Z" fill="#444" stroke="#000" stroke-width="1.1"/>
<path d="M1379.9,738.3 Q1380.5,734.9 1382.5,734.2 L1391,733.4 Q1386,736.4 1379.9,738.3 Z" fill="#444" stroke="#000" stroke-width="1.1"/>
<rect x="1374.4" y="718.8" width="57.8" height="15.2" fill="#000"/>
<rect x="1392" y="718.6" width="2" height="0.9" fill="#fff"/>
<rect x="1392" y="733.3" width="2" height="0.9" fill="#fff"/>
<rect x="1402.5" y="718.6" width="2" height="0.9" fill="#fff"/>
<rect x="1402.5" y="733.3" width="2" height="0.9" fill="#fff"/>
<rect x="1409" y="718.6" width="2" height="0.9" fill="#fff"/>
<rect x="1409" y="733.3" width="2" height="0.9" fill="#fff"/>
<rect x="1415.5" y="718.6" width="2" height="0.9" fill="#fff"/>
<rect x="1415.5" y="733.3" width="2" height="0.9" fill="#fff"/>
<rect x="1375.2" y="723.9" width="8" height="1.9" fill="#fff"/>
<rect x="1375.2" y="727.1" width="8" height="1.9" fill="#fff"/>
<rect x="1389.9" y="722.8" width="1" height="3.2" fill="#aaa"/>
<rect x="1389.9" y="727.1" width="1" height="3.4" fill="#aaa"/>
<rect x="1391.9" y="722.8" width="1" height="3.2" fill="#aaa"/>
<rect x="1391.9" y="727.1" width="1" height="3.4" fill="#aaa"/>
<rect x="1393.9" y="722.8" width="1" height="3.2" fill="#aaa"/>
<rect x="1393.9" y="727.1" width="1" height="3.4" fill="#aaa"/>
<rect x="1398" y="722.8" width="1" height="3.2" fill="#aaa"/>
<rect x="1398" y="727.1" width="1" height="3.4" fill="#aaa"/>
<rect x="1400.9" y="722.8" width="1" height="3.2" fill="#aaa"/>
<rect x="1400.9" y="727.1" width="1" height="3.4" fill="#aaa"/>
<rect x="1402.9" y="722.8" width="1" height="3.2" fill="#aaa"/>
<rect x="1402.9" y="727.1" width="1" height="3.4" fill="#aaa"/>
<rect x="1404.9" y="722.8" width="1" height="3.2" fill="#aaa"/>
<rect x="1404.9" y="727.1" width="1" height="3.4" fill="#aaa"/>
<rect x="1407" y="722.8" width="1" height="3.2" fill="#aaa"/>
<rect x="1407" y="727.1" width="1" height="3.4" fill="#aaa"/>
<rect x="1409" y="722.8" width="1" height="3.2" fill="#aaa"/>
<rect x="1409" y="727.1" width="1" height="3.4" fill="#aaa"/>
<rect x="1411" y="722.8" width="1" height="3.2" fill="#aaa"/>
<rect x="1411" y="727.1" width="1" height="3.4" fill="#aaa"/>
<rect x="1413.9" y="722.8" width="1" height="3.2" fill="#aaa"/>
<rect x="1413.9" y="727.1" width="1" height="3.4" fill="#aaa"/>
<rect x="1415.9" y="722.8" width="1" height="3.2" fill="#aaa"/>
<rect x="1415.9" y="727.1" width="1" height="3.4" fill="#aaa"/>
<rect x="1418" y="722.8" width="1" height="3.2" fill="#aaa"/>
<rect x="1418" y="727.1" width="1" height="3.4" fill="#aaa"/>
<rect x="1424" y="722.8" width="1" height="3.2" fill="#aaa"/>
<rect x="1424" y="727.1" width="1" height="3.4" fill="#aaa"/>
<rect x="1429" y="722.8" width="1" height="3.2" fill="#aaa"/>
<rect x="1429" y="727.1" width="1" height="3.4" fill="#aaa"/>
<rect x="1421" y="719.9" width="1.6" height="13" fill="#bbb"/>
<rect x="1426.2" y="719.9" width="1.7" height="13" fill="#888"/>
<polygon points="1432.2,722 1443.4,726.4 1432.2,730.5" fill="none" stroke="#000" stroke-width="1.2"/>
<line x1="1432.2" y1="726.4" x2="1445.5" y2="726.4" stroke="#000" stroke-width="1.15"/>
<line x1="1445.5" y1="598.4" x2="1490.8" y2="598.4" stroke="#000" stroke-width="1.15"/>
<line x1="1445.5" y1="726.4" x2="1490.8" y2="726.4" stroke="#000" stroke-width="1.15"/>
<line x1="1484.5" y1="598.4" x2="1484.5" y2="726.4" stroke="#000" stroke-width="1.15"/>
<polygon points="1484.5,598.4 1488.2,619.7 1480.8,619.7" fill="#000"/>
<polygon points="1484.5,726.4 1480.8,705.1 1488.2,705.1" fill="#000"/>
<text x="1478.2" y="660.4" font-size="32" text-anchor="middle" textLength="45.8" lengthAdjust="spacingAndGlyphs" transform="rotate(-90 1478.2 660.4)">100</text>
<text x="36" y="902.6" font-size="29" textLength="300.5" lengthAdjust="spacingAndGlyphs" style="stroke:none">(a) - 4x nakrętka <tspan font-weight="bold" style="stroke:#fff;stroke-width:0.9px">G1</tspan> ½&quot;</text>
<text x="36" y="938.1" font-size="29" textLength="260.7" lengthAdjust="spacingAndGlyphs" style="stroke-width:0.3px">(b) - korek GW G2&quot;</text>
</svg>
</body></html>
